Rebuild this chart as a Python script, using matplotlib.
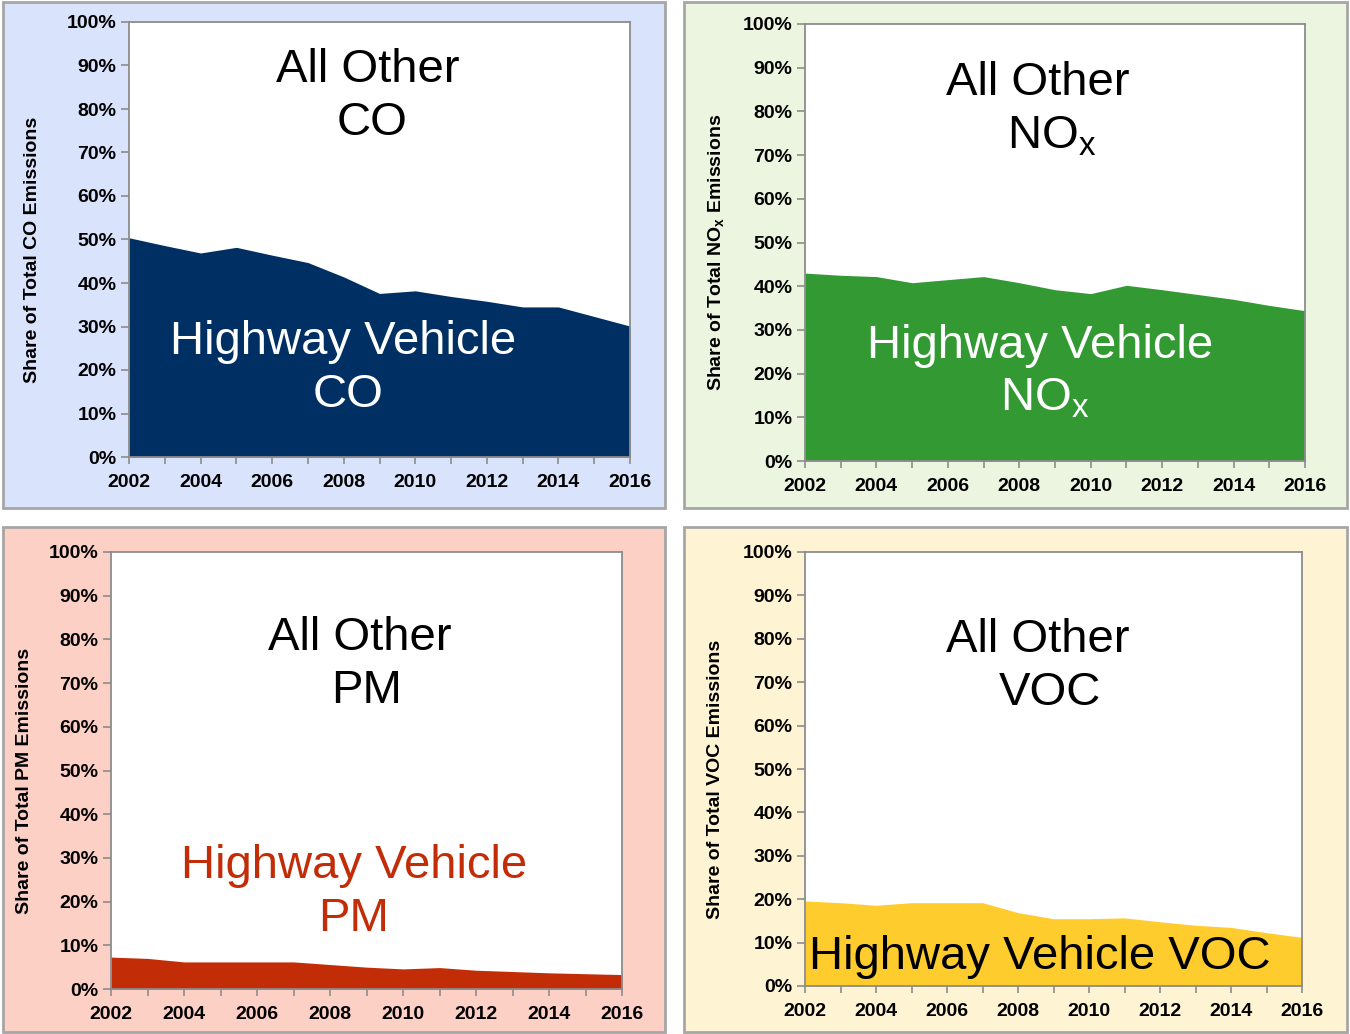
import matplotlib
matplotlib.use("Agg")
import matplotlib.pyplot as plt
from matplotlib.patches import Rectangle
from matplotlib.ticker import MultipleLocator, FixedLocator, FuncFormatter

plt.rcParams['font.family'] = ['Liberation Sans', 'DejaVu Sans']
plt.rcParams['mathtext.default'] = 'regular'

years = list(range(2002, 2017))

# share of total emissions coming from highway vehicles (%)
co_share = [50.4, 48.6, 46.9, 48.2, 46.4, 44.7, 41.4, 37.6, 38.2, 36.9, 35.8, 34.5, 34.5, 32.3, 30.1]
nox_share = [43.0, 42.5, 42.2, 40.8, 41.5, 42.2, 40.8, 39.2, 38.3, 40.2, 39.2, 38.1, 37.0, 35.6, 34.4]
pm_share = [7.3, 7.0, 6.2, 6.2, 6.2, 6.2, 5.6, 5.0, 4.6, 4.9, 4.3, 4.0, 3.7, 3.5, 3.3]
voc_share = [19.6, 19.2, 18.6, 19.2, 19.2, 19.2, 16.9, 15.5, 15.5, 15.7, 14.8, 14.0, 13.5, 12.3, 11.2]

pollutants = ['CO', 'NO$_x$', 'PM', 'VOC']
ylabels = ['Share of Total CO Emissions', 'Share of Total NO$_x$ Emissions',
           'Share of Total PM Emissions', 'Share of Total VOC Emissions']

W, H = 1350, 1034
fig = plt.figure(figsize=(W / 100, H / 100), dpi=100)


def fx(px):
    return px / W


def fy(py):
    return 1 - py / H


def panel(box, axbox, bg, values, fill, ylabel, ylab_x, texts):
    # coloured frame behind each chart
    l, t, r, b = box
    fig.patches.append(Rectangle((fx(l), fy(b)), fx(r - l), (b - t) / H,
                                 transform=fig.transFigure, facecolor=bg,
                                 edgecolor='#a6a6a6', linewidth=2, zorder=-5))
    l, t, r, b = axbox
    ax = fig.add_axes([fx(l), fy(b), fx(r - l), (b - t) / H])
    ax.set_zorder(2)
    ax.set_facecolor('white')
    ax.fill_between(years, values, 0, color=fill, linewidth=0)
    ax.set_xlim(2002, 2016)
    ax.set_ylim(0, 100)
    ax.yaxis.set_major_locator(MultipleLocator(10))
    ax.yaxis.set_major_formatter(FuncFormatter(lambda v, p: '%d%%' % v))
    ax.xaxis.set_major_locator(FixedLocator(years))
    ax.xaxis.set_major_formatter(FuncFormatter(lambda v, p: '%d' % v if int(v) % 2 == 0 else ''))
    for s in ax.spines.values():
        s.set_color('#8c8c8c')
        s.set_linewidth(1.3)
    ax.tick_params(axis='y', length=6, width=1.2, color='#8c8c8c', pad=3, labelsize=14)
    ax.tick_params(axis='x', length=5, width=1.2, color='#8c8c8c', pad=7, labelsize=14,
                   direction='out')
    for lab in ax.get_xticklabels() + ax.get_yticklabels():
        lab.set_fontweight('bold')
    fig.text(fx(ylab_x), fy((t + b) / 2 + 10), ylabel, rotation=90, fontsize=14,
             fontweight='bold', ha='center', va='center', zorder=3)
    # big labels, positions given as text baselines
    for (x, y, s, c) in texts:
        fig.text(fx(x), fy(y), s, fontsize=34, color=c, ha='center', va='baseline', zorder=5)
    return ax


panel((3, 2, 665, 508), (129, 22, 630, 457), '#d9e3fc', co_share, '#003063',
      ylabels[0], 33,
      [(368, 82, 'All Other', 'black'), (372, 135, pollutants[0], 'black'),
       (343, 354, 'Highway Vehicle', 'white'), (348, 407, pollutants[0], 'white')])

panel((684, 2, 1347, 508), (805, 24, 1305, 461), '#ebf5e0', nox_share, '#339933',
      ylabels[1], 716,
      [(1038, 95, 'All Other', 'black'), (1052, 148, pollutants[1], 'black'),
       (1040, 358, 'Highway Vehicle', 'white'), (1045, 411, pollutants[1], 'white')])

panel((3, 527, 665, 1032), (111, 552, 622, 989), '#fdd0c6', pm_share, '#c22d08',
      ylabels[2], 25,
      [(360, 650, 'All Other', 'black'), (367, 703, pollutants[2], 'black'),
       (354, 878, 'Highway Vehicle', '#c22d08'), (354, 931, pollutants[2], '#c22d08')])

panel((684, 527, 1347, 1032), (805, 552, 1302, 986), '#fef3d3', voc_share, '#ffcc2e',
      ylabels[3], 715,
      [(1038, 652, 'All Other', 'black'), (1050, 705, pollutants[3], 'black'),
       (1040, 969, 'Highway Vehicle VOC', 'black')])

fig.savefig('out.png', dpi=100)
